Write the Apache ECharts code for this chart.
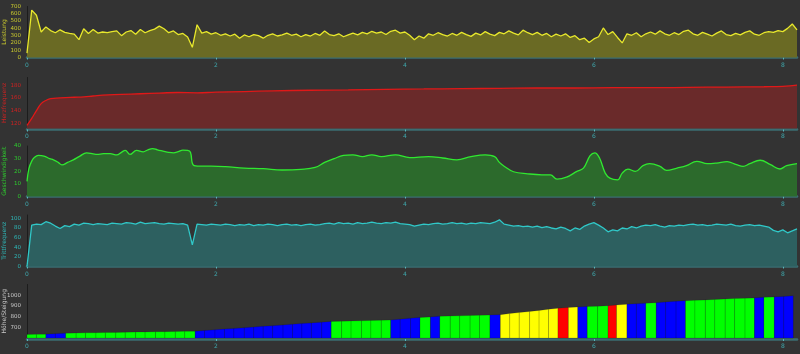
<!DOCTYPE html>
<html><head><meta charset="utf-8">
<script src="https://cdn.jsdelivr.net/npm/echarts@6/dist/echarts.min.js"></script>
<style>html,body{margin:0;padding:0;background:#333;} #c{width:800px;height:354px;}</style>
</head><body><div id="c"></div><script>
// ---- data ----
const sampleStepKm = 0.05;
const powerW = [60,650,580,350,420,370,340,380,345,330,320,245,395,330,385,335,350,340,355,365,
300,350,370,320,385,340,370,390,430,395,340,365,315,330,280,140,450,335,355,320,
340,305,325,295,320,265,310,285,315,300,265,305,325,295,310,335,305,320,285,315,
295,330,305,365,315,300,325,285,310,335,310,345,325,360,335,350,315,360,375,335,
350,305,245,295,265,325,305,340,315,295,330,305,345,315,290,335,310,355,320,300,
345,325,365,335,310,375,340,315,345,305,330,285,320,295,325,275,300,245,265,205,
255,285,405,315,355,275,200,325,305,340,285,325,350,320,365,325,305,340,315,360,
375,325,305,345,320,295,335,365,315,300,330,310,345,365,320,305,340,355,345,370,
355,400,460,380];
const cadenceRpm = [0,86,88,87,93,90,84,79,85,83,88,86,90,89,87,89,88,87,90,89,
88,91,90,88,92,89,90,91,89,88,90,89,88,89,86,45,88,87,86,88,
87,86,88,87,85,87,86,88,85,87,86,88,87,85,87,88,86,87,85,87,
88,86,87,89,90,88,91,89,90,88,91,89,90,92,90,89,91,90,92,89,
88,87,84,86,88,87,89,90,88,89,91,89,90,88,90,89,91,90,89,92,
97,88,86,84,85,83,84,82,84,81,83,80,78,82,79,74,80,77,84,88,
91,86,80,72,76,74,80,78,83,80,84,86,85,87,84,82,85,84,86,85,
87,88,86,87,85,86,88,87,86,88,85,84,86,87,85,86,84,82,75,72,
76,70,74,78];
const heartRate = [[0,117],[0.05,128],[0.1,140],[0.15,151],[0.2,156],[0.25,159],[0.35,160],[0.5,161],
[0.6,161.5],[0.7,163],[0.8,164.5],[1.0,165.5],[1.2,166.5],[1.4,167.5],[1.6,168.5],[1.8,168],
[2.0,169],[2.3,170],[2.6,171],[3.0,172],[3.4,172.5],[3.8,173.5],[4.2,174],[4.6,174.5],[5.0,175],
[5.4,175.5],[5.8,175.5],[6.2,176],[6.6,176],[7.0,176.5],[7.4,177],[7.8,177.5],[8.0,178],[8.15,180]];
const speedKmh = [[0,12],[0.02,22],[0.05,28],[0.08,31],[0.12,32.5],[0.18,32],[0.24,30],[0.28,29],
[0.33,27],[0.37,25],[0.43,27],[0.49,29],[0.56,32],[0.63,34.6],[0.70,33.8],[0.74,33.3],[0.81,34],
[0.88,34],[0.95,32.9],[1.00,35],[1.04,36.6],[1.09,33.3],[1.16,36.6],[1.23,35.4],[1.28,37],[1.33,38],
[1.38,37],[1.44,36],[1.50,35],[1.55,34.6],[1.60,35.5],[1.65,36.8],[1.70,36.5],[1.73,35],[1.76,25],
[1.83,24],[1.95,24],[2.10,23.6],[2.30,22.5],[2.50,22],[2.70,21],[2.90,21.5],[3.05,23],[3.15,27],
[3.25,30],[3.35,32.5],[3.45,33],[3.55,31.6],[3.65,33],[3.75,31.6],[3.9,33],[4.05,30.8],[4.25,31.6],
[4.4,30.5],[4.55,29],[4.7,31.6],[4.85,33],[4.95,31.6],[5.0,27],[5.05,24],[5.15,19.6],[5.3,18],
[5.45,17.2],[5.54,17.2],[5.61,13.7],[5.71,15.3],[5.82,19.9],[5.89,22.5],[5.96,32.4],[6.01,34.6],
[6.06,30.5],[6.12,18.5],[6.17,14.5],[6.25,13.2],[6.30,18.5],[6.36,21.7],[6.44,19.9],[6.52,24.4],
[6.59,26],[6.70,23.9],[6.77,20.7],[6.88,22.5],[6.98,24.4],[7.09,27.9],[7.20,26],[7.30,26.5],
[7.41,27.6],[7.51,25.2],[7.58,23.9],[7.65,26],[7.76,28.7],[7.87,25.2],[7.97,21.8],[8.04,24.4],[8.15,26]];
const elevKm = [0,0.10,0.20,0.30,0.41,0.52,0.62,0.73,0.83,0.94,1.04,1.15,1.25,1.36,1.46,1.57,1.67,1.78,
1.88,1.99,2.09,2.19,2.30,2.40,2.50,2.60,2.71,2.81,2.91,3.01,3.12,3.22,
3.33,3.43,3.54,3.64,3.75,3.85,3.95,4.06,4.16,4.27,4.37,4.48,4.58,4.69,4.79,4.90,5.01,
5.11,5.21,5.32,5.42,5.52,5.62,5.73,5.83,5.93,6.04,6.15,6.24,6.35,6.45,6.55,6.66,6.76,6.87,6.97,
7.07,7.18,7.28,7.39,7.49,7.60,7.70,7.80,7.91,8.01,8.11];
const elevM = [633,634,635,640,645,646,648,649,651,652,654,655,656,658,659,660,662,663,
670,676,683,689,696,702,709,715,722,728,735,741,748,755,
757,759,761,764,766,768,776,784,792,797,803,805,807,810,812,814,818,
828,838,848,858,868,878,885,890,894,897,901,908,915,920,925,930,937,943,948,
952,956,960,964,968,972,975,980,984,989,994];
const gradeClass = ['G','G','B','B','G','G','G','G','G','G','G','G','G','G','G','G','G',
'B','B','B','B','B','B','B','B','B','B','B','B','B','B',
'G','G','G','G','G','G','B','B','B','G','B','G','G','G','G','G','B',
'Y','Y','Y','Y','Y','Y','R','Y','B','G','G','R','Y','B','B','G','B','B','B',
'G','G','G','G','G','G','G','B','G','B','B'];
const gradeColors = {G:'#00ff00', B:'#0000ff', Y:'#ffff00', R:'#ff0000'};
const axisNames = ['Leistung','Herzfrequenz','Geschwindigkeit','Trittfrequenz','Höhe/Steigung'];
const xMaxKm = 8.15;

// ---- chart ----
const FONT = 'DejaVu Sans';
const chart = echarts.init(document.getElementById('c'), null, {renderer:'canvas'});
const gridBoxes = [[6.5,51],[77.5,51],[146,50.5],[215,51.5],[284.5,53.5]];
const grids = gridBoxes.map(g => ({left:27, right:3, top:g[0], height:g[1], containLabel:false, outerBoundsMode:'none'}));
const xAxes = gridBoxes.map((g,i) => ({
  type:'value', gridIndex:i, min:0, max:xMaxKm, interval:2, offset:1,
  axisLine:{show:true, lineStyle:{color:'#3b6d72', width:2.5}},
  axisTick:{show:true, length:2, lineStyle:{color:'#5ab7bc'}},
  axisLabel:{color:'#3ea6ab', fontSize:6, margin:4, showMaxLabel:false, fontFamily:FONT},
  splitLine:{show:false}
}));
const yCols = ['#c9c92e','#cc2222','#2ecc2e','#2eb8b8','#c8c8c8'];
const plain = v => String(v);
const yBase = (i, extra, lab) => Object.assign({
  type:'value', gridIndex:i, name:axisNames[i], nameLocation:'middle', nameGap:20, nameRotate:90,
  nameMoveOverlap:false,
  nameTextStyle:{color:yCols[i], fontSize:6, fontFamily:FONT},
  axisLine:{show:true, lineStyle:{color:'#1c1c1c', width:1}},
  axisTick:{show:false},
  axisLabel:Object.assign({color:yCols[i], fontSize:5.5, margin:6, fontFamily:FONT, formatter:plain}, lab||{}),
  splitLine:{show:false}
}, extra);
const yAxes = [
  yBase(0,{min:0,max:700,interval:100}),
  yBase(1,{min:112,max:192},{showMinLabel:false,showMaxLabel:false}),
  yBase(2,{min:0,max:40,interval:10}),
  yBase(3,{min:0,max:107},{showMaxLabel:false}),
  yBase(4,{min:600,max:1100,interval:100},{showMinLabel:false,showMaxLabel:false})
];
const elevData = gradeClass.map((c,i) => [elevKm[i], elevKm[i+1], elevM[i], elevM[i+1]]);

function lineSeries(idx, data, lineCol, fillCol, smooth){
  return {type:'line', xAxisIndex:idx, yAxisIndex:idx, data, symbol:'none', smooth,
    lineStyle:{color:lineCol, width:1.3}, areaStyle:{color:fillCol, opacity:1},
    animation:false};
}
chart.setOption({
  backgroundColor:'#333333',
  animation:false,
  grid:grids, xAxis:xAxes, yAxis:yAxes,
  series:[
    lineSeries(0, powerW.map((v,i)=>[i*sampleStepKm, v]), '#e8e82c', '#6a6a24', false),
    lineSeries(1, heartRate, '#e01818', '#6a2a2a', true),
    lineSeries(2, speedKmh, '#30e830', '#2c6a2c', 0.4),
    lineSeries(3, cadenceRpm.map((v,i)=>[i*sampleStepKm, v]), '#30c8c8', '#2d6060', false),
    {type:'custom', xAxisIndex:4, yAxisIndex:4, data:elevData, encode:{x:[0,1], y:[2,3]},
     renderItem:function(params, api){
       const p0 = api.coord([api.value(0), api.value(2)]);
       const p1 = api.coord([api.value(1), api.value(3)]);
       const b1 = api.coord([api.value(1), 600]);
       const b0 = api.coord([api.value(0), 600]);
       return {type:'polygon', shape:{points:[p0,p1,b1,b0]},
         style:{fill:gradeColors[gradeClass[params.dataIndex]], stroke:'rgba(0,0,0,0.18)', lineWidth:0.7}};
     }}
  ]
});
</script></body></html>
